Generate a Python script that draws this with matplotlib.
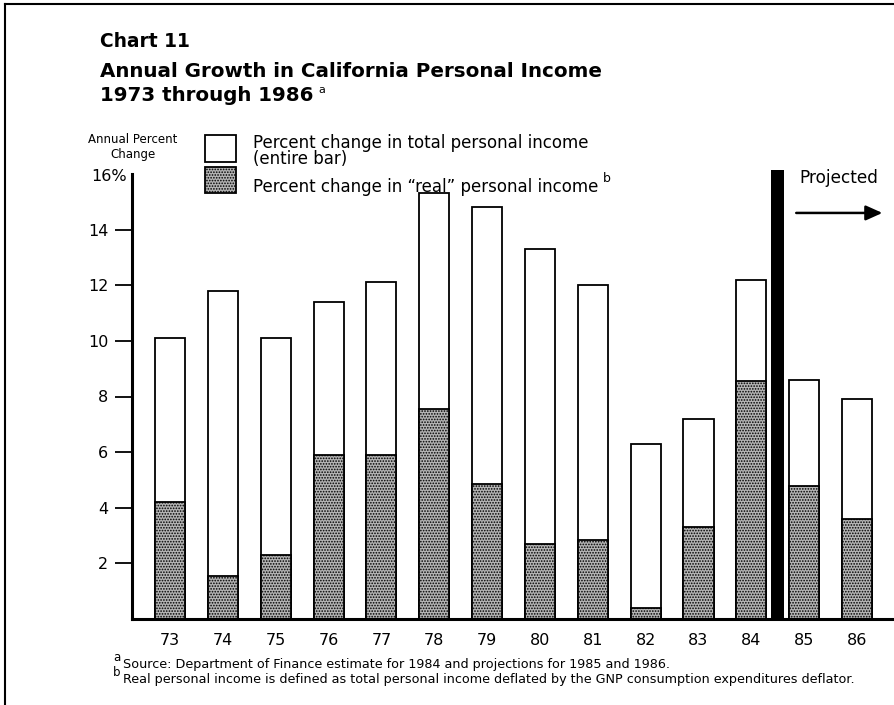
import matplotlib
matplotlib.use("Agg")
import matplotlib.pyplot as plt
from matplotlib.patches import Rectangle
from matplotlib.lines import Line2D

# California personal income, annual percent change
years = ["73", "74", "75", "76", "77", "78", "79", "80", "81", "82", "83", "84", "85", "86"]
total_change = [10.1, 11.8, 10.1, 11.4, 12.1, 15.3, 14.8, 13.3, 12.0, 6.3, 7.2, 12.2, 8.6, 7.9]
real_change = [4.2, 1.55, 2.3, 5.9, 5.9, 7.55, 4.85, 2.7, 2.85, 0.4, 3.3, 8.55, 4.8, 3.6]
y_ticks = [2, 4, 6, 8, 10, 12, 14]
first_projected = "85"

W, H = 894, 705
plt.rcParams["font.family"] = ["DejaVu Sans"]
plt.rcParams["hatch.color"] = "#4a4a4a"
plt.rcParams["hatch.linewidth"] = 0.8

fig = plt.figure(figsize=(W / 100, H / 100), dpi=100)


def fx(px):
    return px / W


def fy(py):
    return 1 - py / H


ax = fig.add_axes([fx(132), fy(619), fx(894) - fx(132), fy(174) - fy(619)])

x = list(range(len(years)))
bar_w = 0.57
ax.bar(x, total_change, width=bar_w, facecolor="white", edgecolor="black", linewidth=1.3)
ax.bar(x, real_change, width=bar_w, facecolor="#b4b4b4", edgecolor="black",
       linewidth=1.3, hatch="......")

ax.set_xlim(-0.72, 13.7)
ax.set_ylim(0, 16)

for side in ["top", "right"]:
    ax.spines[side].set_visible(False)
ax.spines["left"].set_linewidth(2.2)
ax.spines["bottom"].set_linewidth(2.2)

ax.set_yticks(y_ticks)
ax.set_yticklabels([str(v) for v in y_ticks])
ax.tick_params(axis="y", length=12, width=1.3, pad=5, labelsize=11.5)
ax.set_xticks(x)
ax.set_xticklabels(years)
ax.tick_params(axis="x", length=0, pad=10, labelsize=11.5)
ax.annotate("16%", xy=(0, 16), xycoords=ax.get_yaxis_transform(),
            xytext=(-4, -2), textcoords="offset points",
            ha="right", va="center", fontsize=11.5)

# divider between estimates and projections
split = years.index(first_projected) - 0.5
ax.bar(split, 16.15, width=0.25, color="black", clip_on=False)
ax.text(split + 0.4, 15.85, "Projected", fontsize=12.2, va="center", ha="left")
ax.annotate("", xy=(split + 1.98, 14.6), xytext=(split + 0.35, 14.6),
            arrowprops=dict(arrowstyle="-|>,head_length=1.0,head_width=0.45",
                            color="black", lw=1.8, shrinkA=0, shrinkB=0),
            annotation_clip=False)

# titles
fig.text(fx(100), fy(47), "Chart 11", fontsize=13.4, fontweight="bold", va="baseline")
fig.text(fx(100), fy(77), "Annual Growth in California Personal Income",
         fontsize=14.3, fontweight="bold", va="baseline")
t2 = fig.text(fx(100), fy(101), "1973 through 1986", fontsize=14.3,
              fontweight="bold", va="baseline")
fig.canvas.draw()
fig.text(t2.get_window_extent().x1 / W + fx(5), fy(93), "a", fontsize=8,
         va="baseline")

# legend
fig.text(fx(133), fy(147), "Annual Percent\nChange", fontsize=8.5, ha="center",
         va="center", linespacing=1.15)
fig.add_artist(Rectangle((fx(205), fy(162)), fx(31), fy(135) - fy(162),
                         transform=fig.transFigure, facecolor="white",
                         edgecolor="black", linewidth=1.3))
fig.add_artist(Rectangle((fx(205), fy(193)), fx(31), fy(167) - fy(193),
                         transform=fig.transFigure, facecolor="#b4b4b4",
                         edgecolor="black", linewidth=1.3, hatch="......"))
fig.text(fx(253), fy(134), "Percent change in total personal income\n(entire bar)",
         fontsize=12, va="top", linespacing=0.85)
lg = fig.text(fx(253), fy(192), "Percent change in \u201creal\u201d personal income",
              fontsize=12, va="baseline")
fig.canvas.draw()
fig.text(lg.get_window_extent().x1 / W + fx(5), fy(182), "b", fontsize=9,
         va="baseline")

# footnotes
fig.text(fx(113), fy(661), "a", fontsize=8.5, va="baseline")
fig.text(fx(123), fy(668),
         "Source: Department of Finance estimate for 1984 and projections for 1985 and 1986.",
         fontsize=9.2, va="baseline")
fig.text(fx(113), fy(676), "b", fontsize=8.5, va="baseline")
fig.text(fx(123), fy(683),
         "Real personal income is defined as total personal income deflated by the GNP "
         "consumption expenditures deflator.",
         fontsize=9.2, va="baseline")

# page frame
fig.add_artist(Line2D([fx(5), fx(5)], [fy(4), 0], color="black", lw=1.5))
fig.add_artist(Line2D([fx(5), 1], [fy(4), fy(4)], color="black", lw=1.5))

fig.savefig("out.png", dpi=100)
